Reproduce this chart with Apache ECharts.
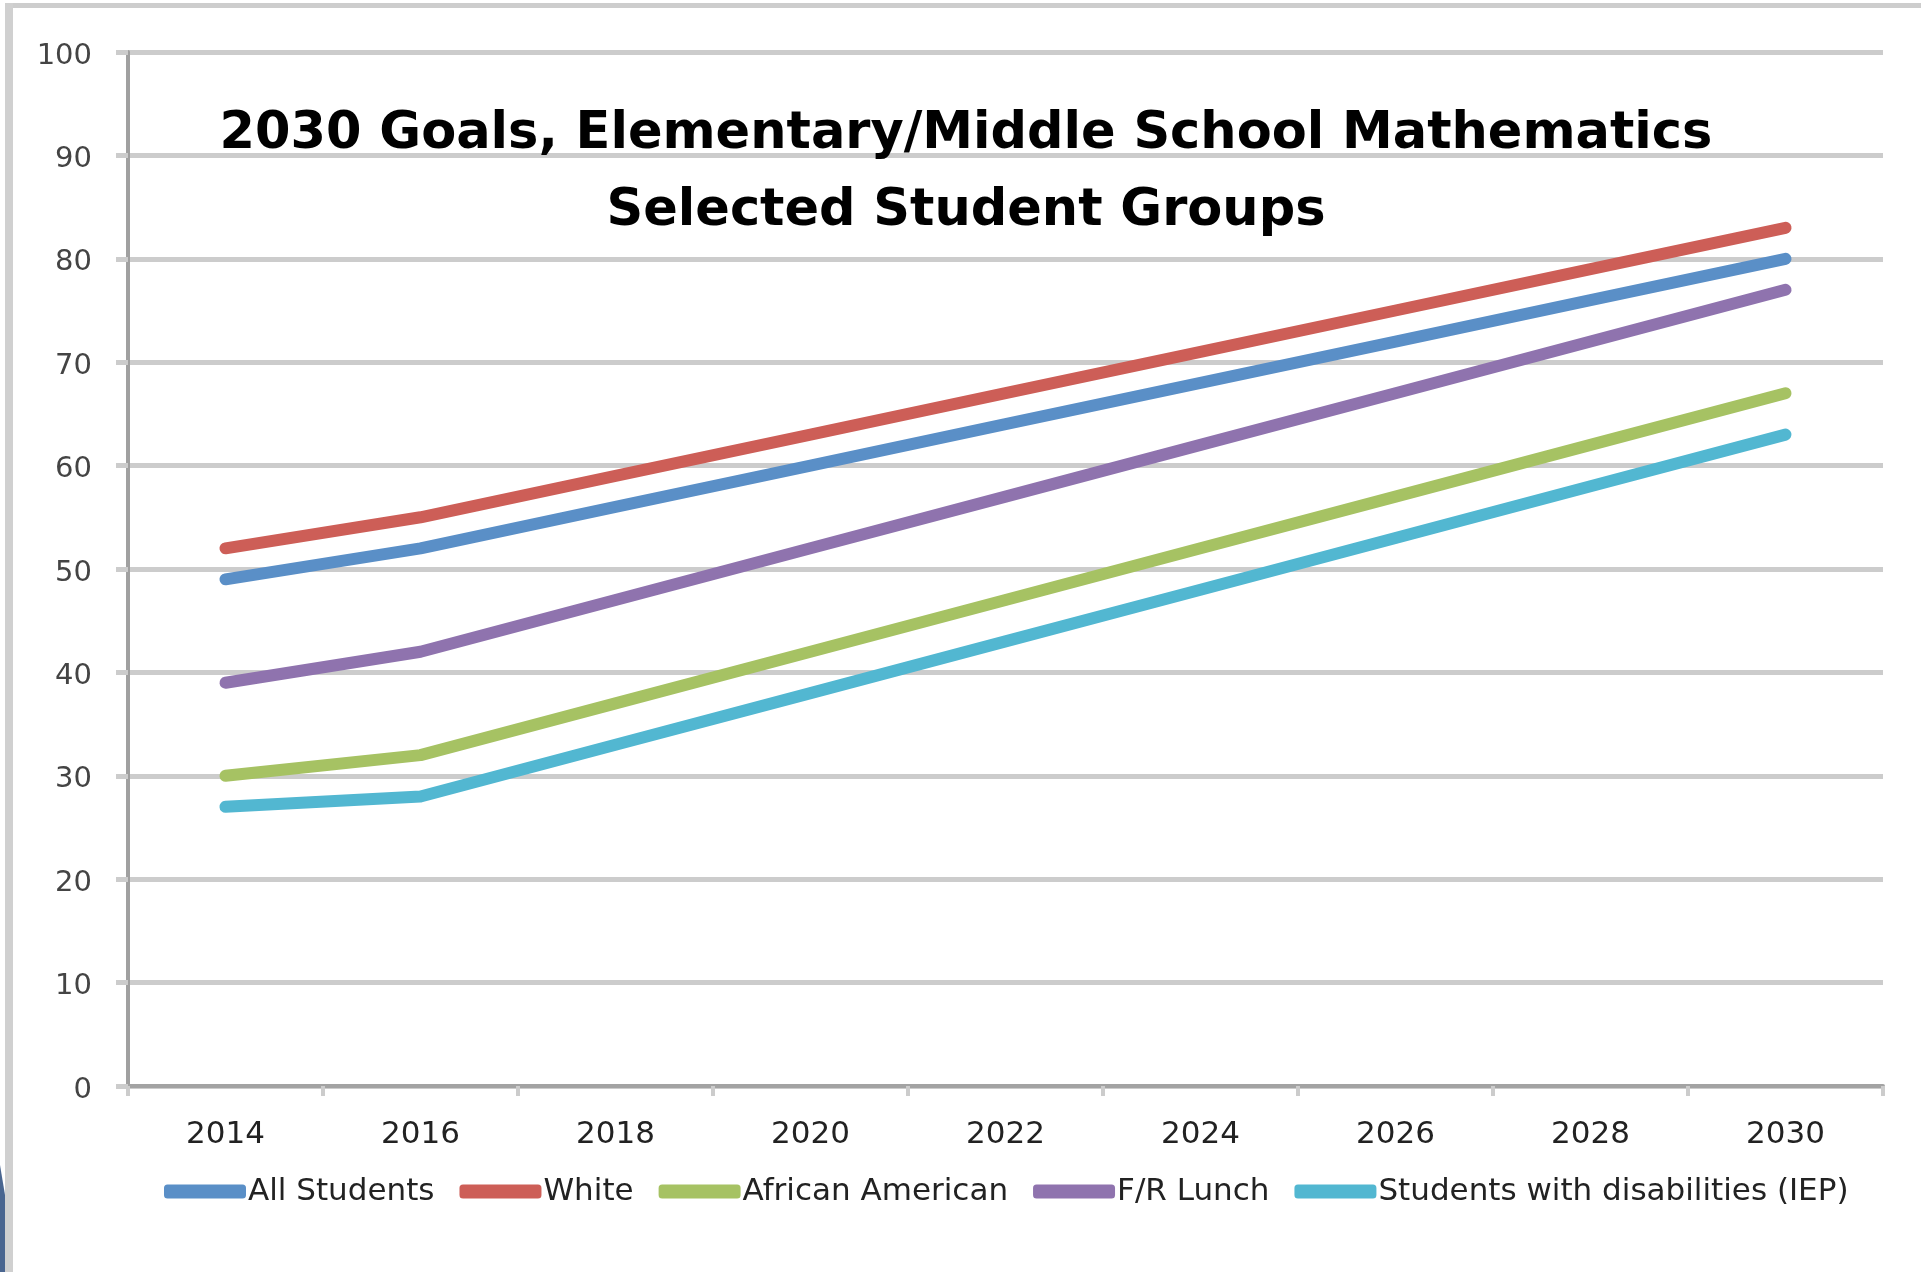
<!DOCTYPE html>
<html>
<head>
<meta charset="utf-8">
<script src="https://cdn.jsdelivr.net/npm/echarts@6/dist/echarts.min.js"></script>
<style>
html,body{margin:0;padding:0;background:#fff;}
#chart{width:1921px;height:1272px;}
</style>
</head>
<body>
<div id="chart"></div>
<script>
const titleLines = ['2030 Goals, Elementary/Middle School Mathematics', 'Selected Student Groups'];
const years = ['2014','2016','2018','2020','2022','2024','2026','2028','2030'];
const seriesNames = ['All Students','White','African American','F/R Lunch','Students with disabilities (IEP)'];
const allStudents = [49, 52, 56, 60, 64, 68, 72, 76, 80];
const white = [52, 55, 59, 63, 67, 71, 75, 79, 83];
const africanAmerican = [30, 32, 37, 42, 47, 52, 57, 62, 67];
const frLunch = [39, 42, 47, 52, 57, 62, 67, 72, 77];
const iep = [27, 28, 33, 38, 43, 48, 53, 58, 63];
const yTicks = {min: 0, max: 100, interval: 10};

const colors = ['#5A8FC7', '#CD5E57', '#A6C263', '#8F73AE', '#52B7D1'];
const dataSets = [allStudents, white, africanAmerican, frLunch, iep];

const chart = echarts.init(document.getElementById('chart'), null, {renderer: 'canvas'});
const option = {
  backgroundColor: '#ffffff',
  animation: false,
  color: colors,
  title: {
    text: titleLines.join('\n'),
    left: 966,
    top: 96,
    padding: 0,
    textAlign: 'center',
    textStyle: {
      fontFamily: 'DejaVu Sans',
      fontWeight: 'bold',
      fontSize: 51,
      lineHeight: 77,
      color: '#000000'
    }
  },
  grid: {left: 128, right: 38, top: 52, bottom: 186, containLabel: false},
  legend: {
    left: 164,
    top: 1176,
    padding: 0,
    itemWidth: 82,
    itemHeight: 14,
    itemGap: 25,
    icon: 'roundRect',
    textStyle: {fontFamily: 'DejaVu Sans', fontSize: 31, color: '#222', padding: [0,0,0,-3]},
    data: seriesNames
  },
  xAxis: {
    type: 'category',
    data: years,
    boundaryGap: true,
    axisLine: {show: true, lineStyle: {color: '#a3a3a3', width: 4}},
    axisTick: {show: true, alignWithLabel: false, length: 10, lineStyle: {color: '#cccccc', width: 4}},
    axisLabel: {fontFamily: 'DejaVu Sans', fontSize: 31, color: '#222', margin: 33},
    splitLine: {show: false}
  },
  yAxis: {
    type: 'value',
    min: yTicks.min,
    max: yTicks.max,
    interval: yTicks.interval,
    axisLine: {show: true, lineStyle: {color: '#a0a0a0', width: 4}},
    axisTick: {show: true, length: 12, lineStyle: {color: '#cccccc', width: 5}},
    axisLabel: {
      margin: 36,
      formatter: '{v|{value}}',
      rich: {v: {fontFamily: 'DejaVu Sans', fontSize: 29, color: '#444', padding: [8,0,0,0]}}
    },
    splitLine: {show: true, lineStyle: {color: '#cccccc', width: 5}}
  },
  series: seriesNames.map((name, i) => ({
    name: name,
    type: 'line',
    data: dataSets[i],
    symbol: 'none',
    smooth: false,
    lineStyle: {width: 12, color: colors[i], cap: 'round', join: 'round'},
    itemStyle: {color: colors[i]},
    z: 3
  })),
  graphic: [
    {type: 'rect', shape: {x: 8, y: 3, width: 1913, height: 5}, style: {fill: '#cdcdcd'}, silent: true, z: -1},
    {type: 'rect', shape: {x: 5, y: 3, width: 8, height: 1269}, style: {fill: '#d0d0d0'}, silent: true, z: -1},
    {type: 'polygon', shape: {points: [[0,1165],[5,1195],[5,1272],[0,1272]]}, style: {fill: '#4a6690'}, silent: true, z: -1}
  ]
};
chart.setOption(option);
</script>
</body>
</html>
